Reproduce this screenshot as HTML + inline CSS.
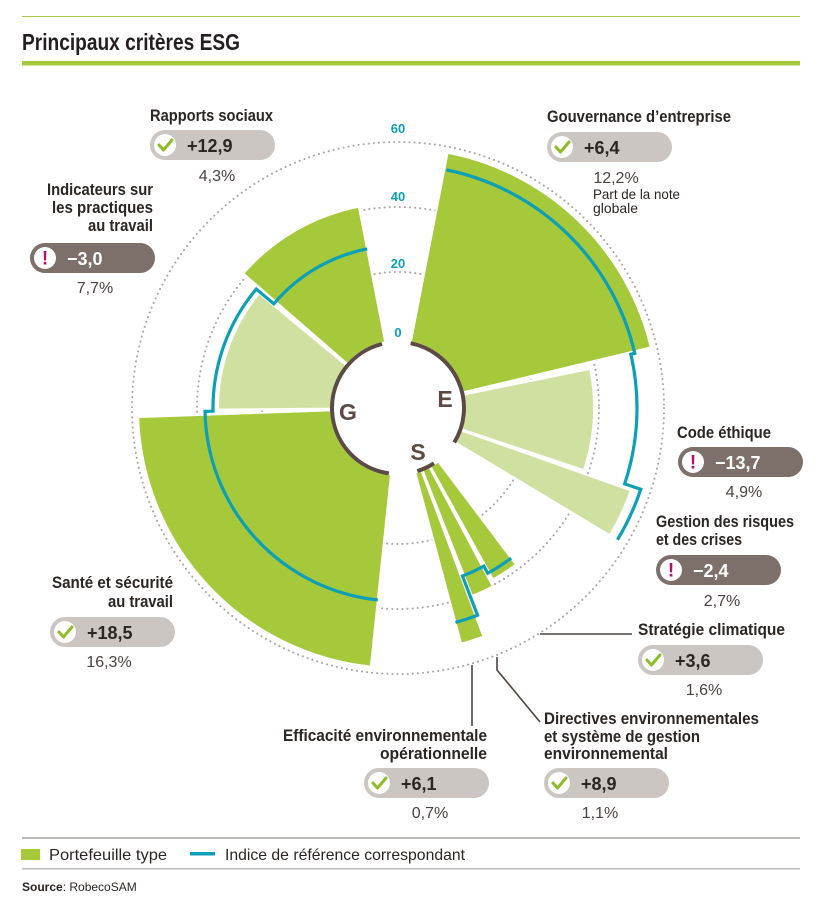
<!DOCTYPE html>
<html><head><meta charset="utf-8">
<style>
html,body{margin:0;padding:0;background:#fff;}
svg{display:block;}
text{font-family:"Liberation Sans Narrow","Liberation Sans",sans-serif;}
.lb{font-weight:bold;font-size:16.5px;fill:#2b2623;}
.pc{font-size:16px;fill:#4a4240;}
.bv{font-weight:bold;font-size:18px;fill:#2b2623;}
.bw{font-weight:bold;font-size:18px;fill:#fff;}
.tk{font-weight:bold;font-size:13px;fill:#0d9fb6;}
.gl{font-weight:bold;font-size:23px;fill:#5b4b44;}
</style></head>
<body>
<svg id="s" width="826" height="915" viewBox="0 0 826 915" xmlns="http://www.w3.org/2000/svg">
<line x1="22" y1="16.5" x2="800" y2="16.5" stroke="#a8c84a" stroke-width="1"/>
<text x="22" y="50" textLength="218" lengthAdjust="spacingAndGlyphs" style="font-weight:bold;font-size:23px;fill:#231f20">Principaux critères ESG</text>
<rect x="22" y="61" width="778" height="4.5" fill="#a5c93a"/>
<g id="chart"></g>
<g stroke="#4e4440" stroke-width="1.6" fill="none">
<line x1="540" y1="634" x2="632" y2="634"/>
<line x1="472" y1="665" x2="472" y2="726"/>
<polyline points="497,657 497,670 540,722"/>
</g>
<text class="lb" x="150" y="121" textLength="123" lengthAdjust="spacingAndGlyphs">Rapports sociaux</text>
<text class="lb" x="47" y="195" textLength="106" lengthAdjust="spacingAndGlyphs">Indicateurs sur</text>
<text class="lb" x="52" y="213" textLength="101" lengthAdjust="spacingAndGlyphs">les practiques</text>
<text class="lb" x="88" y="231" textLength="65" lengthAdjust="spacingAndGlyphs">au travail</text>
<text class="lb" x="547" y="122" textLength="184" lengthAdjust="spacingAndGlyphs">Gouvernance d’entreprise</text>
<text class="lb" x="677" y="438" textLength="94" lengthAdjust="spacingAndGlyphs">Code éthique</text>
<text class="lb" x="656" y="527" textLength="138" lengthAdjust="spacingAndGlyphs">Gestion des risques</text>
<text class="lb" x="656" y="545" textLength="86" lengthAdjust="spacingAndGlyphs">et des crises</text>
<text class="lb" x="52" y="588" textLength="121" lengthAdjust="spacingAndGlyphs">Santé et sécurité</text>
<text class="lb" x="108" y="607" textLength="65" lengthAdjust="spacingAndGlyphs">au travail</text>
<text class="lb" x="638" y="635" textLength="147" lengthAdjust="spacingAndGlyphs">Stratégie climatique</text>
<text class="lb" x="283" y="741" textLength="204" lengthAdjust="spacingAndGlyphs">Efficacité environnementale</text>
<text class="lb" x="380" y="759" textLength="107" lengthAdjust="spacingAndGlyphs">opérationnelle</text>
<text class="lb" x="544" y="724" textLength="215" lengthAdjust="spacingAndGlyphs">Directives environnementales</text>
<text class="lb" x="544" y="742" textLength="156" lengthAdjust="spacingAndGlyphs">et système de gestion</text>
<text class="lb" x="544" y="759" textLength="124" lengthAdjust="spacingAndGlyphs">environnemental</text>

<text class="pc" x="217" y="181" text-anchor="middle">4,3%</text>
<text class="pc" x="95" y="293" text-anchor="middle">7,7%</text>
<text class="pc" x="616" y="183" text-anchor="middle">12,2%</text>
<text x="593" y="199" textLength="87" lengthAdjust="spacingAndGlyphs" style="font-size:14px;fill:#2b2623">Part de la note</text>
<text x="593" y="213" textLength="45" lengthAdjust="spacingAndGlyphs" style="font-size:14px;fill:#2b2623">globale</text>
<text class="pc" x="744" y="497" text-anchor="middle">4,9%</text>
<text class="pc" x="722" y="606" text-anchor="middle">2,7%</text>
<text class="pc" x="109" y="667" text-anchor="middle">16,3%</text>
<text class="pc" x="704" y="695" text-anchor="middle">1,6%</text>
<text class="pc" x="430" y="818" text-anchor="middle">0,7%</text>
<text class="pc" x="600" y="818" text-anchor="middle">1,1%</text>
<g id="badges"></g>

<rect x="22" y="837" width="778" height="2" fill="#bdbab8"/>
<rect x="21" y="849" width="19" height="11" fill="#a5c93a"/>
<text x="49" y="860" textLength="118" lengthAdjust="spacingAndGlyphs" style="font-size:16px;fill:#2b2623">Portefeuille type</text>
<rect x="190" y="852" width="25" height="3.5" fill="#0d9fb6"/>
<text x="225" y="860" textLength="240" lengthAdjust="spacingAndGlyphs" style="font-size:16px;fill:#2b2623">Indice de référence correspondant</text>
<rect x="22" y="868" width="778" height="1.5" fill="#bdbab8"/>
<text x="22" y="891" style="font-size:12px;fill:#2b2623"><tspan font-weight="bold">Source</tspan>: RobecoSAM</text>
</svg>
<script>
var cx=398,cy=408,R0=67;
function P(r,a){a=a*Math.PI/180;return [(cx+r*Math.sin(a)).toFixed(2),(cy-r*Math.cos(a)).toFixed(2)];}
function sector(r0,r1,a0,a1){var p1=P(r0,a0),p2=P(r1,a0),p3=P(r1,a1),p4=P(r0,a1),l=(a1-a0)>180?1:0;
return "M"+p1+"L"+p2+"A"+r1+","+r1+" 0 "+l+" 1 "+p3+"L"+p4+"A"+r0+","+r0+" 0 "+l+" 0 "+p1+"Z";}
function arc(r,a0,a1){var p1=P(r,a0),p2=P(r,a1);return "M"+p1+"A"+r+","+r+" 0 "+((a1-a0)>180?1:0)+" 1 "+p2;}
var h="";
[136,201,266].forEach(function(r){h+='<circle cx="'+cx+'" cy="'+cy+'" r="'+r+'" fill="none" stroke="#a9a6a4" stroke-width="2" stroke-dasharray="0.1 5" stroke-linecap="round"/>';});
var G="#a5c93a",L="#cfe0a1";
var W=[[11,76.5,260,G],[78.5,108.5,196,L],[109.5,121,247,L],[143,151,196,G],[152,158.5,202,G],[159.5,165,244,G],[186,268,260,G],[269.5,309.5,180,L],[311,349,205,G]];
W.forEach(function(w){h+='<path d="'+sector(R0,w[2],w[0],w[1])+'" fill="'+w[3]+'" stroke="#fff" stroke-width="2"/>';});
function bpath(segs){var d="";segs.forEach(function(s,i){var p=P(s[0],s[1]),q=P(s[0],s[2]);
d+=(i==0?"M"+p:"L"+p)+"A"+s[0]+","+s[0]+" 0 0 1 "+q;});return d;}
var bs='fill="none" stroke="#0d9fb6" stroke-width="3.2" stroke-linejoin="miter"';
h+='<path d="'+bpath([[243,11.5,77],[239,77,108.5],[256,108.5,121]])+'" '+bs+'/>';
h+='<path d="'+bpath([[188,143,151.5],[180,151.5,159],[222,159,165]])+'" '+bs+'/>';
h+='<path d="'+bpath([[193,186,269],[185,269,310],[162,310,349]])+'" '+bs+'/>';
h+='<circle cx="'+cx+'" cy="'+cy+'" r="'+R0+'" fill="#fff"/>';
var cs='fill="none" stroke="#5b4b44" stroke-width="4"';
h+='<path d="'+arc(R0-1,11,121.5)+'" '+cs+'/>';
h+='<path d="'+arc(R0-1,147,163)+'" '+cs+'/>';
h+='<path d="'+arc(R0-1,188,346)+'" '+cs+'/>';
h+='<text class="gl" x="445" y="407" text-anchor="middle">E</text>';
h+='<text class="gl" x="348" y="420" text-anchor="middle">G</text>';
h+='<text class="gl" x="418" y="460" text-anchor="middle">S</text>';
[["0",337],["20",268],["40",201],["60",133]].forEach(function(t){h+='<text class="tk" x="398" y="'+t[1]+'" text-anchor="middle">'+t[0]+'</text>';});
document.getElementById("chart").innerHTML=h;
var b="";
function badge(x,y,w,val,neg){var hgt=30;
b+='<rect x="'+x+'" y="'+y+'" width="'+w+'" height="'+hgt+'" rx="15" fill="'+(neg?"#7d6f69":"#cbc6c2")+'"/>';
var ix=x+15,iy=y+15;
b+='<circle cx="'+ix+'" cy="'+iy+'" r="11" fill="#fff"/>';
if(neg){b+='<text x="'+ix+'" y="'+(iy+6.5)+'" text-anchor="middle" style="font-weight:bold;font-size:19px;fill:#b1106c;font-family:Liberation Sans,sans-serif">!</text>';}
else{b+='<polyline points="'+(ix-6)+','+(iy)+' '+(ix-1.5)+','+(iy+5)+' '+(ix+7)+','+(iy-5)+'" fill="none" stroke="#8dbb2a" stroke-width="3" stroke-linecap="round" stroke-linejoin="round"/>';}
b+='<text class="'+(neg?"bw":"bv")+'" x="'+(x+37)+'" y="'+(y+22)+'">'+val+'</text>';}
badge(150,130,125,"+12,9",0);
badge(30,243,125,"−3,0",1);
badge(547,132,125,"+6,4",0);
badge(678,447,125,"−13,7",1);
badge(656,555,125,"−2,4",1);
badge(50,617,125,"+18,5",0);
badge(638,645,125,"+3,6",0);
badge(364,768,125,"+6,1",0);
badge(544,768,125,"+8,9",0);
document.getElementById("badges").innerHTML=b;
</script>
</body></html>
